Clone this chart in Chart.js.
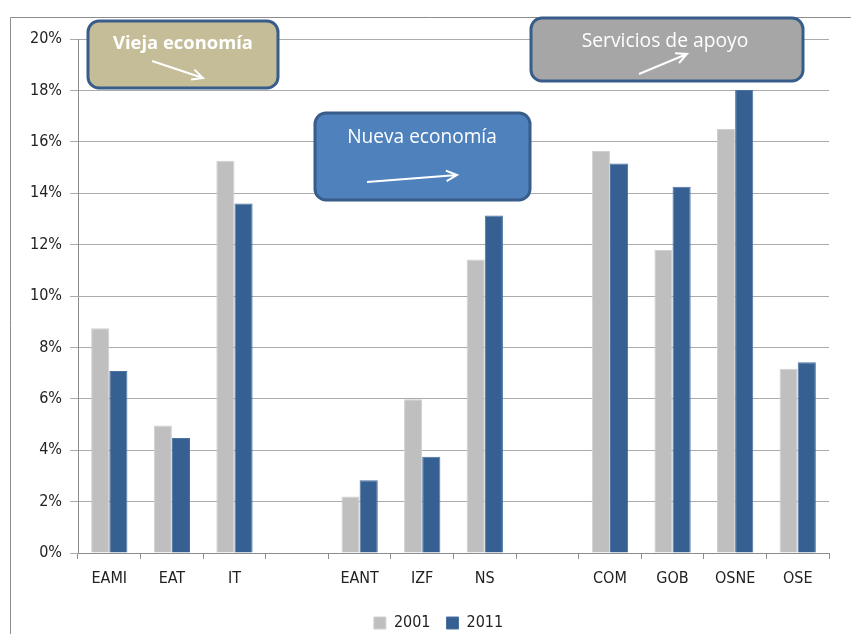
<!DOCTYPE html>
<html lang="es">
<head>
    <meta charset="UTF-8" />
    <title>Empleo por sector</title>
    <script src="https://cdn.jsdelivr.net/npm/chart.js@4.4.0/dist/chart.umd.min.js"></script>
    <style>
        * { margin: 0; padding: 0; }
        body { background: #fff; width: 851px; height: 634px; overflow: hidden; }
        .chartBox { position: relative; width: 851px; height: 634px; }
    </style>
</head>
<body>
    <div class="chartBox">
        <canvas id="myChart"></canvas>
    </div>
    <script>
        const categories = ["EAMI", "EAT", "IT", "", "EANT", "IZF", "NS", "", "COM", "GOB", "OSNE", "OSE"];
        const values2001 = [8.75, 4.96, 15.26, null, 2.2, 5.98, 11.42, null, 15.64, 11.79, 16.5, 7.17];
        const values2011 = [7.08, 4.47, 13.6, null, 2.83, 3.75, 13.13, null, 15.16, 14.25, 18.02, 7.42];
        const yTicks = [0, 2, 4, 6, 8, 10, 12, 14, 16, 18, 20];

        const fontFamily = "'DejaVu Sans Condensed', 'Liberation Sans', Arial, sans-serif";
        const boxFont = "'Open Sans', 'DejaVu Sans', sans-serif";

        // callout boxes drawn on top of the chart (tw = text width to fit)
        const boxes = [
            { x: 88, y: 21, w: 190, h: 67, fill: "#c4bd97", text: "Vieja economía", bold: true,
              tx: 183, ty: 44, tw: 140, ax1: 152, ay1: 61, ax2: 203, ay2: 78 },
            { x: 315, y: 113, w: 215, h: 87, fill: "#4f81bd", text: "Nueva economía", bold: false,
              tx: 422, ty: 138, tw: 150, ax1: 367, ay1: 182, ax2: 457, ay2: 175 },
            { x: 531, y: 18, w: 272, h: 63, fill: "#a6a6a6", text: "Servicios de apoyo", bold: false,
              tx: 665, ty: 42, tw: 167, ax1: 639, ay1: 74, ax2: 687, ay2: 54 }
        ];

        const framePlugin = {
            id: "frame",
            afterLayout(chart) {
                // legend sits a bit right of the centre in the original
                chart.legend.left += 24;
                chart.legend.right += 24;
            },
            beforeDraw(chart) {
                const c = chart.ctx;
                c.save();
                c.strokeStyle = "#8c8c8c";
                c.lineWidth = 1;
                c.beginPath();
                c.moveTo(10.5, chart.height);
                c.lineTo(10.5, 17.5);
                c.lineTo(chart.width, 17.5);
                c.stroke();
                c.restore();
            }
        };

        const calloutPlugin = {
            id: "callouts",
            afterDraw(chart) {
                const c = chart.ctx;
                c.save();
                boxes.forEach(b => {
                    c.beginPath();
                    c.roundRect(b.x, b.y, b.w, b.h, 11);
                    c.fillStyle = b.fill;
                    c.fill();
                    c.lineWidth = 3;
                    c.strokeStyle = "#385d8a";
                    c.stroke();

                    const weight = b.bold ? "bold " : "";
                    c.font = weight + "16px " + boxFont;
                    const size = 16 * b.tw / c.measureText(b.text).width;
                    c.font = weight + size.toFixed(1) + "px " + boxFont;
                    c.fillStyle = "#ffffff";
                    c.textAlign = "center";
                    c.textBaseline = "middle";
                    c.fillText(b.text, b.tx, b.ty);

                    // arrow
                    c.strokeStyle = "#ffffff";
                    c.lineWidth = 2;
                    c.beginPath();
                    c.moveTo(b.ax1, b.ay1);
                    c.lineTo(b.ax2, b.ay2);
                    const ang = Math.atan2(b.ay2 - b.ay1, b.ax2 - b.ax1);
                    c.moveTo(b.ax2 - 12 * Math.cos(ang - 0.45), b.ay2 - 12 * Math.sin(ang - 0.45));
                    c.lineTo(b.ax2, b.ay2);
                    c.lineTo(b.ax2 - 12 * Math.cos(ang + 0.45), b.ay2 - 12 * Math.sin(ang + 0.45));
                    c.stroke();
                });
                c.restore();
            }
        };

        const data = {
            labels: categories,
            datasets: [
                {
                    label: "2001",
                    data: values2001,
                    backgroundColor: "#bfbfbf",
                    borderColor: "#d0d0d0",
                    borderWidth: 1
                },
                {
                    label: "2011",
                    data: values2011,
                    backgroundColor: "#366092",
                    borderColor: "#4a72a0",
                    borderWidth: 1
                }
            ]
        };

        const options = {
            responsive: true,
            maintainAspectRatio: false,
            animation: false,
            layout: {
                padding: { top: 39, right: 22, left: 0, bottom: -7 }
            },
            datasets: {
                bar: {
                    categoryPercentage: 0.58,
                    barPercentage: 1.0
                }
            },
            scales: {
                x: {
                    offset: true,
                    afterFit: (scale) => { scale.height = 46; },
                    grid: {
                        display: true,
                        offset: true,
                        drawOnChartArea: false,
                        drawTicks: true,
                        tickLength: 6,
                        color: "#8c8c8c"
                    },
                    border: { color: "#8c8c8c" },
                    ticks: {
                        color: "#222",
                        padding: 10,
                        font: { family: fontFamily, size: 16 }
                    }
                },
                y: {
                    min: 0,
                    max: 20,
                    afterFit: (scale) => { scale.width = 78; },
                    afterBuildTicks: (scale) => {
                        scale.ticks = yTicks.map(v => ({ value: v }));
                    },
                    grid: {
                        color: "#ababab",
                        tickLength: 8
                    },
                    border: { color: "#8c8c8c" },
                    ticks: {
                        color: "#222",
                        padding: 8,
                        font: { family: fontFamily, size: 16 },
                        callback: (v) => v + "%"
                    }
                }
            },
            plugins: {
                legend: {
                    position: "bottom",
                    labels: {
                        boxWidth: 12,
                        boxHeight: 12,
                        padding: 16,
                        color: "#222",
                        font: { family: fontFamily, size: 16 }
                    }
                },
                tooltip: { enabled: false }
            }
        };

        const ctx = document.getElementById("myChart").getContext("2d");
        const myChart = new Chart(ctx, {
            type: "bar",
            data: data,
            plugins: [framePlugin, calloutPlugin],
            options: options
        });
    </script>
</body>
</html>
